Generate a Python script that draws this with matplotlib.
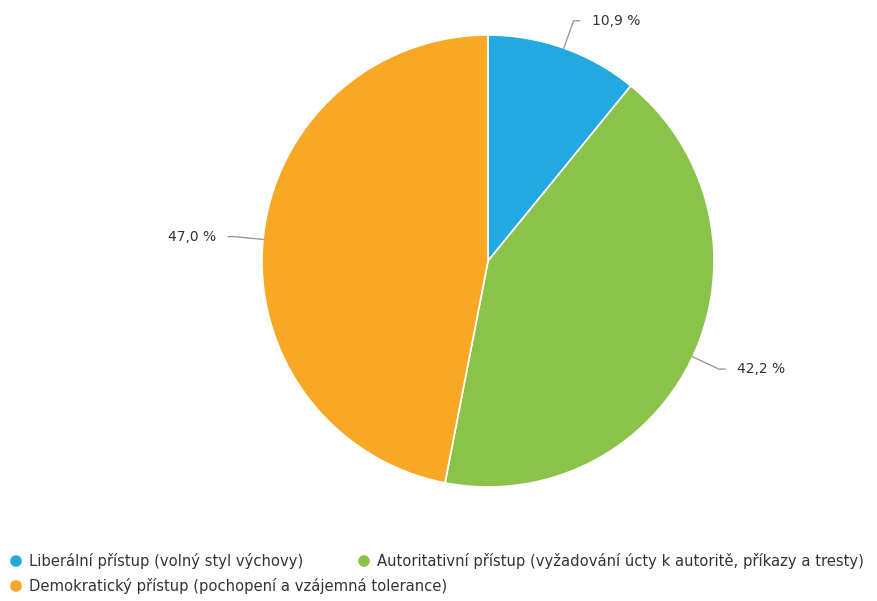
import numpy as np
import matplotlib
matplotlib.use("Agg")
import matplotlib.pyplot as plt

categories = [
    "Liberální přístup (volný styl výchovy)",
    "Autoritativní přístup (vyžadování úcty k autoritě, příkazy a tresty)",
    "Demokratický přístup (pochopení a vzájemná tolerance)",
]
values = [10.9, 42.2, 47.0]
labels = ["10,9 %", "42,2 %", "47,0 %"]
colors = ["#21A9E0", "#8BC34A", "#F9A825"]

plt.rcParams['font.family'] = ['DejaVu Sans']
W, H = 878, 601
fig = plt.figure(figsize=(W / 100, H / 100), dpi=100)
ax = fig.add_axes([0, 0, 1, 1])

cx, cy, r = 488, H - 261, 226
wedges, _ = ax.pie(values, center=(cx, cy), radius=r, startangle=90,
                   counterclock=False, colors=colors,
                   wedgeprops=dict(edgecolor='white', linewidth=1.2),
                   frame=True)
ax.set_xlim(0, W)
ax.set_ylim(0, H)
ax.axis('off')

txtcol = '#333333'
linecol = '#999999'
for w, lab in zip(wedges, labels):
    ang = np.deg2rad((w.theta1 + w.theta2) / 2)
    ca, sa = np.cos(ang), np.sin(ang)
    x0, y0 = cx + r * ca, cy + r * sa
    x1, y1 = cx + (r + 29) * ca, cy + (r + 29) * sa
    side = 1 if ca >= 0 else -1
    x2 = x1 + side * 6
    ax.plot([x0, x1, x2], [y0, y1, y1], color=linecol, lw=1)
    ax.text(x2 + side * 12, y1, lab, ha='left' if side > 0 else 'right',
            va='center', fontsize=10, color=txtcol)

# legend
leg_pos = [(16, H - 561), (364, H - 561), (16, H - 586)]
for (lx, ly), c, cat in zip(leg_pos, colors, categories):
    ax.scatter([lx], [ly], s=70, color=c, edgecolors='none')
    ax.text(lx + 13, ly, cat, ha='left', va='center', fontsize=10.6, color=txtcol)

fig.savefig("out.png", dpi=100)
